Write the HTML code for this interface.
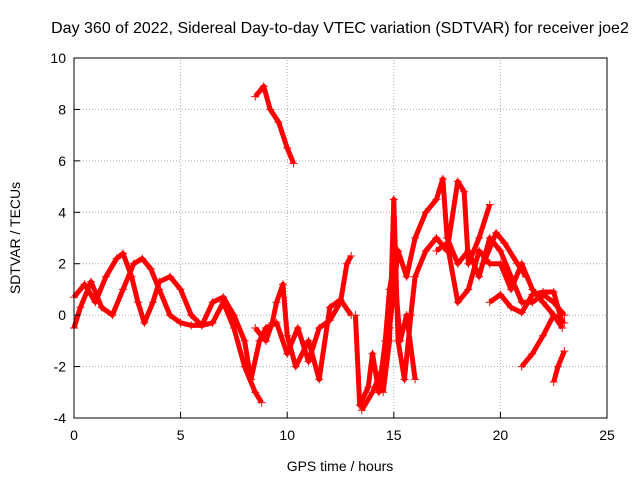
<!DOCTYPE html>
<html><head><meta charset="utf-8"><style>
body{margin:0;background:#fff}
svg{display:block;font-family:"Liberation Sans",sans-serif}
</style></head><body>
<svg id="chart" width="640" height="480" viewBox="0 0 640 480">
<rect width="640" height="480" fill="#fff"/>
<text x="340" y="33" font-size="16" text-anchor="middle" fill="#000">Day 360 of 2022, Sidereal Day-to-day VTEC variation (SDTVAR) for receiver joe2</text>
<g id="grid"></g>
<g id="series"></g>
<rect x="74" y="58" width="533" height="360" fill="none" stroke="#000" stroke-width="1"/>
<g id="ticks"></g>
<text x="340" y="471" font-size="14" text-anchor="middle">GPS time / hours</text>
<text transform="translate(20,238) rotate(-90)" font-size="14" text-anchor="middle">SDTVAR / TECUs</text>
</svg>
<script>
const xTicks=[0,5,10,15,20,25];
const yTicks=[-4,-2,0,2,4,6,8,10];
const track1=[[0,0.7],[0.5,1.2],[1,0.5],[1.5,1.5],[2,2.2],[2.3,2.4],[2.7,1.5],[3,0.5],[3.3,-0.3],[3.7,0.5],[4,1.3],[4.5,1.5],[5,1.0],[5.5,0],[6,-0.4],[6.5,-0.3],[7,0.5],[7.5,-0.5],[8,-2],[8.5,-3],[8.8,-3.4]];
const track2=[[0,-0.5],[0.3,0.3],[0.8,1.3],[1.3,0.3],[1.8,0],[2.3,1],[2.8,2],[3.2,2.2],[3.6,1.8],[4,1],[4.5,0],[5,-0.3],[5.5,-0.4],[6,-0.4],[6.5,0.5],[7,0.7],[7.5,0],[8,-1],[8.3,-2.5],[8.7,-1],[9,-0.5],[9.5,-0.3],[10,-1.5],[10.5,-0.5],[11,-1.8],[11.5,-0.5],[12,-0.2],[12.5,0.5],[12.8,2],[13,2.3]];
const track3=[[8.5,8.5],[8.9,8.9],[9.2,8],[9.6,7.5],[10,6.5],[10.3,5.9]];
const track4=[[8.5,-0.5],[9,-1],[9.3,-0.3],[9.5,0.5],[9.8,1.2],[10,-0.8],[10.4,-2],[11,-1],[11.5,-2.5],[12,0.3],[12.5,0.6],[13,0]];
const track5=[[13.2,0],[13.4,-3.5],[13.8,-2.8],[14,-1.5],[14.3,-3],[14.6,-1],[14.8,1],[15,2],[15.3,-1],[15.6,0],[16,-2.5]];
const track6=[[13.5,-3.7],[14,-3],[14.5,-2],[14.8,-0.5],[15,1],[15.2,2.5],[15.6,1.5],[16,3],[16.5,4],[17,4.5],[17.3,5.3],[17.5,3],[18,2],[18.5,2.5],[19,1.5],[19.5,3],[20,2.5],[20.5,1.5],[21,0.5],[21.5,0.5],[22,0.8],[22.5,0.5],[23,0]];
const track7=[[14.5,-3],[14.8,-1],[15,4.5],[15.2,-1],[15.5,-2.5],[15.8,0],[16,1.5],[16.5,2.5],[17,3],[17.5,2.5],[18,5.2],[18.3,4.8],[18.5,2],[19,3],[19.5,4.3]];
const track8=[[17,2.5],[17.5,2.8],[18,0.5],[18.5,1],[19,2.5],[19.5,2],[20,2],[20.5,1],[21,2],[21.5,1],[22,0.5],[22.5,0],[23,-0.3]];
const track9=[[19.5,0.5],[20,0.8],[20.5,0.3],[21,0.1],[21.5,0.8],[22,0.9],[22.5,0.9],[22.9,-0.3]];
const track10=[[21,-2],[21.5,-1.5],[22,-0.8],[22.5,0],[22.9,-0.5]];
const track11=[[22.5,-2.6],[22.7,-2],[23,-1.4]];
const track12=[[19.2,2],[19.8,3.2],[20.2,2.8],[20.8,2],[21.2,1.5]];
const tracks=[track1,track2,track3,track4,track5,track6,track7,track8,track9,track10,track11,track12];

const X0=74,X1=607,Y0=418,Y1=58,xmin=0,xmax=25,ymin=-4,ymax=10;
const sx=v=>X0+(v-xmin)/(xmax-xmin)*(X1-X0);
const sy=v=>Y0-(v-ymin)/(ymax-ymin)*(Y0-Y1);
const NS="http://www.w3.org/2000/svg";
function mk(t,a,p){const e=document.createElementNS(NS,t);for(const k in a)e.setAttribute(k,a[k]);p.appendChild(e);return e;}
const grid=document.getElementById('grid'),ticks=document.getElementById('ticks'),ser=document.getElementById('series');
xTicks.forEach(v=>{
 const x=sx(v);
 if(v>xmin&&v<xmax){const g=mk('line',{x1:x,x2:x,y1:Y0,y2:Y1,stroke:'#aaa','stroke-dasharray':'1,2'},grid);
 }
 const t=mk('line',{x1:x,x2:x,y1:Y0,y2:Y0-6,stroke:'#000'},ticks);
 
 const l=mk('text',{x:x,y:Y0+22,'font-size':14,'text-anchor':'middle'},ticks);l.textContent=v;
 
});
yTicks.forEach(v=>{
 const y=sy(v);
 if(v>ymin&&v<ymax){const g=mk('line',{x1:X0,x2:X1,y1:y,y2:y,stroke:'#aaa','stroke-dasharray':'1,2'},grid);
 }
 const t=mk('line',{x1:X0,x2:X0+6,y1:y,y2:y,stroke:'#000'},ticks);
 
 const l=mk('text',{x:X0-8,y:y+5,'font-size':14,'text-anchor':'end'},ticks);l.textContent=v;
 
});
tracks.forEach((tr,i)=>{
 const pl=mk('polyline',{points:tr.map(p=>sx(p[0])+','+sy(p[1])).join(' '),fill:'none',stroke:'#f00','stroke-width':5,'stroke-linejoin':'round'},ser);
 
 tr.forEach(p=>{
  const x=sx(p[0]),y=sy(p[1]);
  const m=mk('path',{d:`M${x-4},${y}H${x+4}M${x},${y-4}V${y+4}`,stroke:'#f00','stroke-width':1},ser);
  
 });
});
</script>
</body></html>
